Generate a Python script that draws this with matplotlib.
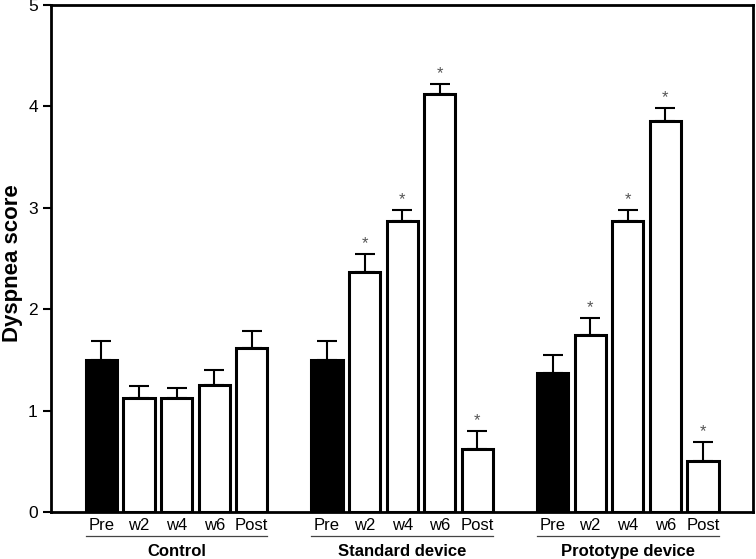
import matplotlib
matplotlib.use("Agg")
import matplotlib.pyplot as plt
import matplotlib.transforms as mtransforms

plt.rcParams['font.family'] = ['Liberation Sans', 'DejaVu Sans']

groups = ["Control", "Standard device", "Prototype device"]
timepoints = ["Pre", "w2", "w4", "w6", "Post"]
control_mean = [1.50, 1.12, 1.12, 1.25, 1.62]
control_err = [0.19, 0.12, 0.10, 0.15, 0.17]
standard_mean = [1.50, 2.37, 2.87, 4.12, 0.62]
standard_err = [0.19, 0.17, 0.11, 0.10, 0.18]
prototype_mean = [1.37, 1.75, 2.87, 3.86, 0.50]
prototype_err = [0.18, 0.16, 0.11, 0.12, 0.19]
control_sig = [False, False, False, False, False]
standard_sig = [False, True, True, True, True]
prototype_sig = [False, True, True, True, True]

means = [control_mean, standard_mean, prototype_mean]
errs = [control_err, standard_err, prototype_err]
sigs = [control_sig, standard_sig, prototype_sig]

fig = plt.figure(figsize=(7.56, 5.59), dpi=100)
ax = fig.add_axes([0.0675, 0.084, 0.9285, 0.907])

group_gap = 6
width = 0.83
xticks, xlabels = [], []
for g, (m, e, s) in enumerate(zip(means, errs, sigs)):
    xs = [g * group_gap + i for i in range(len(timepoints))]
    colors = ['black'] + ['white'] * (len(timepoints) - 1)
    ax.bar(xs, m, width=width, color=colors, edgecolor='black', linewidth=2.2, zorder=3)
    ax.errorbar(xs, m, yerr=[[0] * len(m), e], fmt='none', ecolor='black',
                elinewidth=1.5, capsize=7, capthick=1.5, zorder=2)
    for x, mv, ev, sv in zip(xs, m, e, s):
        if sv:
            ax.text(x, mv + ev + 0.03, "*", ha='center', va='bottom',
                    fontsize=12, color='#555555')
    xticks += xs
    xlabels += timepoints
    trans = mtransforms.blended_transform_factory(ax.transData, ax.transAxes)
    ax.plot([xs[0] - width / 2, xs[-1] + width / 2], [-0.047, -0.047], color='#444444',
            linewidth=0.9, transform=trans, clip_on=False)
    ax.text((xs[0] + xs[-1]) / 2, -0.064, groups[g], transform=trans, ha='center',
            va='top', fontsize=12, fontweight='bold')

ax.set_xticks(xticks)
ax.set_xticklabels(xlabels, fontsize=12)
ax.tick_params(axis='x', length=0, pad=4)
ax.tick_params(axis='y', length=6, width=1.5, labelsize=12.5, direction='out')
ax.set_xlim(-1.34, 17.33)
ax.set_ylim(0, 5)
ax.set_yticks([0, 1, 2, 3, 4, 5])
ax.set_ylabel("Dyspnea score", fontsize=16, fontweight='bold', va='center')
ax.yaxis.set_label_coords(-0.055, 0.49)
for sp in ax.spines.values():
    sp.set_linewidth(2)

fig.savefig("out.png", dpi=100)
